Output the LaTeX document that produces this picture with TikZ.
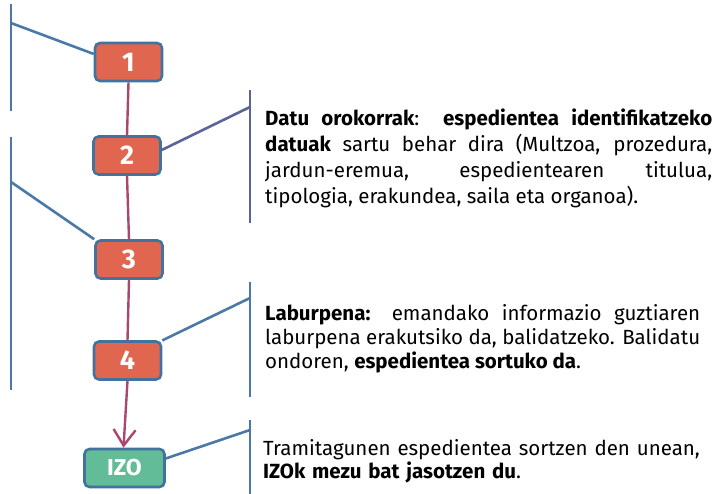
\documentclass[tikz,border=0pt]{standalone}
\usepackage{fontspec}
\setmainfont{Fira Sans}
\usepackage{tikz}
\usetikzlibrary{arrows.meta}
\usetikzlibrary{positioning}
\definecolor{boxred}{HTML}{E1664F}
\definecolor{boxgreen}{HTML}{62BC98}
\definecolor{boxline}{HTML}{42729E}
\definecolor{flowline}{HTML}{A9476F}
\definecolor{bracketblue}{HTML}{4A79A8}
\definecolor{bracketpurple}{HTML}{5A6499}
\hyphenpenalty=10000
\exhyphenpenalty=10000

\begin{document}
\begin{tikzpicture}[x=1pt, y=-1pt,
    step box/.style = {rectangle, rounded corners=5pt, line width=2.6pt, draw=boxline,
        fill=boxred, text=white, minimum width=67pt, minimum height=38pt, inner sep=0pt,
        font=\fontsize{27}{27}\selectfont\bfseries},
    end box/.style = {step box, fill=boxgreen, minimum width=80pt, font=\fontsize{23}{23}\selectfont\bfseries},
    flow/.style = {draw=flowline, line width=2.4pt},
    bracket/.style = {draw=bracketblue, line width=2.6pt},
    note/.style = {anchor=base west, inner sep=0pt, text width=447pt, align=justify,
        font=\fontsize{20.5}{25.8}\selectfont}]
    \useasboundingbox (0,0) rectangle (722,494);
    \node [step box] (n1) at (128.5,62) {1};
    \node [step box] (n2) at (127,155.5) {2};
    \node [step box] (n3) at (129,259.5) {3};
    \node [step box] (n4) at (127.5,360.5) {4};
    \node [end box] (izo) at (124.5,468) {IZO};

    \draw [flow] (n1.south) -- (n2.north);
    \draw [flow] (n2.south) -- (n3.north);
    \draw [flow] (n3.south) -- (n4.north);
    \draw [flow,-{Straight Barb[length=16pt,width=22pt,line width=2.4pt]}] (n4.south) -- ([xshift=-1pt]izo.north);

    \coordinate (l1top) at (11,4);
    \coordinate (l1bot) at (11,111);
    \coordinate (l1mid) at (11,23);
    \coordinate (l2top) at (11,137);
    \coordinate (l2bot) at (11,390);
    \coordinate (l2mid) at (11,182);
    \coordinate (r2top) at (250,90);
    \coordinate (r2bot) at (250,223);
    \coordinate (r2mid) at (250,107);
    \coordinate (r4top) at (250,282);
    \coordinate (r4bot) at (250,397);
    \coordinate (r4mid) at (250,298);
    \coordinate (r5top) at (250,420);
    \coordinate (r5bot) at (250,494);
    \coordinate (r5mid) at (250,430);

    \draw [bracket] (l1top) -- (l1bot);
    \draw [bracket] (l1mid) -- (n1.167);
    \draw [bracket] (l2top) -- (l2bot);
    \draw [bracket] (l2mid) -- (n3.north west);
    \draw [bracket,draw=bracketpurple] (r2top) -- (r2bot);
    \draw [bracket,draw=bracketpurple] (r2mid) -- (n2.9);
    \draw [bracket] (r4top) -- (r4bot);
    \draw [bracket] (r4mid) -- (n4.30);
    \draw [bracket] (r5top) -- (r5bot);
    \draw [bracket] (r5mid) -- (izo.13);

    \node [note] (t2) at (265,125.7) {\textbf{Datu orokorrak}: \textbf{espedientea identifikatzeko\linebreak datuak} sartu behar dira (Multzoa, prozedura,\linebreak jardun-eremua, espedientearen titulua,\linebreak tipologia, erakundea, saila eta organoa).};
    \node [note,text width=435pt,font=\fontsize{20.5}{24}\selectfont] (t4) at (265,320) {\textbf{Laburpena:} emandako informazio guztiaren\linebreak laburpena erakutsiko da, balidatzeko. Balidatu\linebreak ondoren, \textbf{espedientea sortuko da}.};
    \node [note,align=left,font=\fontsize{20.5}{23.5}\selectfont] (t5) at (263,455) {Tramitagunen espedientea sortzen den unean,\\ \textbf{IZOk mezu bat jasotzen du}.};
\end{tikzpicture}
\end{document}
